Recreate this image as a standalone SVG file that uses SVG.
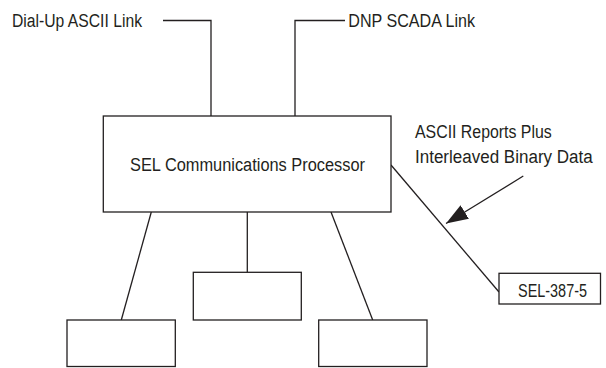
<svg xmlns="http://www.w3.org/2000/svg" width="606" height="368" viewBox="0 0 606 368">
<style>
.box{fill:#fff;stroke:#231f20;stroke-width:1.3}
.ln{fill:none;stroke:#231f20;stroke-width:1.3}
.t{font-family:"Liberation Sans",Arial,sans-serif;font-size:18px;fill:#231f20}
</style>
<defs>
<marker id="ah" markerUnits="userSpaceOnUse" markerWidth="24" markerHeight="18" refX="22" refY="8" orient="auto">
<path d="M0,0 L22,8 L0,16 z" fill="#231f20"/>
</marker>
</defs>
<rect width="606" height="368" fill="#fff"/>
<g id="connectors">
<polyline class="ln" points="163,20.5 211,20.5 211,116"/>
<polyline class="ln" points="345,20.5 295,20.5 295,116"/>
<line class="ln" x1="151.3" y1="212" x2="121.3" y2="320"/>
<line class="ln" x1="247.3" y1="212" x2="247.3" y2="272.3"/>
<line class="ln" x1="331" y1="212" x2="372.7" y2="320"/>
<line class="ln" x1="391" y1="165" x2="499" y2="292"/>
<line class="ln" x1="523.3" y1="176" x2="446" y2="223.5" marker-end="url(#ah)"/>
</g>
<g id="label-dialup"><text class="t" x="12" y="27" textLength="130" lengthAdjust="spacingAndGlyphs">Dial-Up ASCII Link</text></g>
<g id="label-dnp"><text class="t" x="348.3" y="27" textLength="126.7" lengthAdjust="spacingAndGlyphs">DNP SCADA Link</text></g>
<g id="label-ascii"><text class="t" x="415" y="138.3" textLength="136.7" lengthAdjust="spacingAndGlyphs">ASCII Reports Plus</text><text class="t" x="415" y="163.3" textLength="177.7" lengthAdjust="spacingAndGlyphs">Interleaved Binary Data</text></g>
<g id="processor"><rect class="box" x="103.3" y="116" width="287.7" height="96"/><text class="t" x="130" y="170.7" textLength="235" lengthAdjust="spacingAndGlyphs">SEL Communications Processor</text></g>
<g id="sel387"><rect class="box" x="499" y="273.3" width="101.5" height="30.7"/><text class="t" x="518" y="296.7" textLength="69" lengthAdjust="spacingAndGlyphs">SEL-387-5</text></g>
<g id="device-left"><rect class="box" x="67" y="320" width="108.3" height="46.5"/></g>
<g id="device-middle"><rect class="box" x="193.3" y="272.3" width="108" height="47.7"/></g>
<g id="device-right"><rect class="box" x="318.7" y="320" width="108.3" height="46.5"/></g>
</svg>
